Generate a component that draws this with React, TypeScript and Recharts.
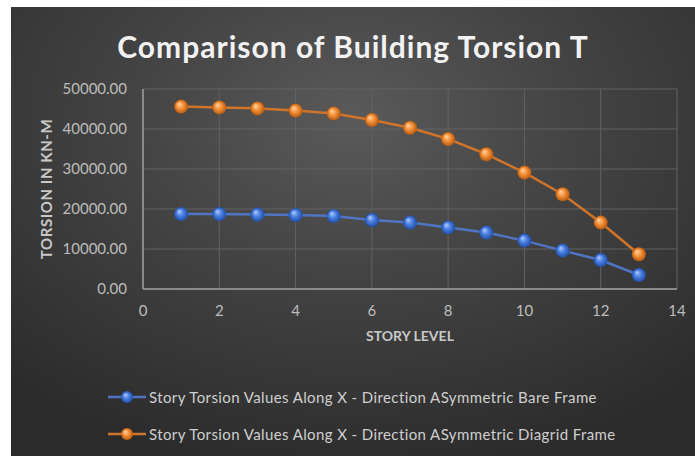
import React from "react";
import {
  LineChart,
  Line,
  XAxis,
  YAxis,
  CartesianGrid,
  Legend,
} from "recharts";

const storyLevels = [1, 2, 3, 4, 5, 6, 7, 8, 9, 10, 11, 12, 13];
const bareFrame = [
  18750, 18750, 18600, 18500, 18250, 17250, 16600, 15400, 14100, 12100, 9600,
  7250, 3500,
];
const diagridFrame = [
  45600, 45400, 45150, 44600, 43900, 42250, 40300, 37500, 33700, 29100, 23700,
  16600, 8700,
];
const xTicks = [0, 2, 4, 6, 8, 10, 12, 14];
const yTicks = [0, 10000, 20000, 30000, 40000, 50000];

const bareName = "Story Torsion Values Along X - Direction ASymmetric Bare Frame";
const diagridName =
  "Story Torsion Values Along X - Direction ASymmetric Diagrid Frame";

const data = storyLevels.map((level, i) => ({
  level,
  bare: bareFrame[i],
  diagrid: diagridFrame[i],
}));

const FONT = "Lato, 'Open Sans', sans-serif";

function makeBall(gradId: string) {
  return (props: any) => {
    const { cx, cy, index } = props;
    if (cx == null || cy == null) return <g key={index} />;
    return (
      <circle
        key={`${gradId}-${index}`}
        cx={cx}
        cy={cy}
        r={7}
        fill={`url(#${gradId})`}
        stroke="none"
      />
    );
  };
}

function LegendRows() {
  const rows = [
    { name: bareName, grad: "ballBlue", line: "#4f74c4" },
    { name: diagridName, grad: "ballOrange", line: "#d0742a" },
  ];
  return (
    <div style={{ height: 100, position: "relative" }}>
      {rows.map((r, i) => (
        <div
          key={r.name}
          style={{
            position: "absolute",
            left: 96,
            top: 39 + i * 37,
            height: 18,
            display: "flex",
            alignItems: "center",
          }}
        >
          <svg width={40} height={18}>
            <defs>
              <radialGradient id={`${r.grad}L`} cx="50%" cy="50%" r="50%" fx="35%" fy="30%">
                {r.grad === "ballBlue" ? (
                  <>
                    <stop offset="0%" stopColor="#b4ccff" />
                    <stop offset="50%" stopColor="#4a7fe0" />
                    <stop offset="100%" stopColor="#1f4fa8" />
                  </>
                ) : (
                  <>
                    <stop offset="0%" stopColor="#ffd6a8" />
                    <stop offset="50%" stopColor="#f5923a" />
                    <stop offset="100%" stopColor="#b85a10" />
                  </>
                )}
              </radialGradient>
            </defs>
            <line x1={1} y1={9} x2={39} y2={9} stroke={r.line} strokeWidth={2.5} />
            <circle cx={20} cy={9} r={6} fill={`url(#${r.grad}L)`} />
          </svg>
          <span
            style={{
              marginLeft: 2,
              fontFamily: FONT,
              fontSize: 15,
              letterSpacing: 0.4,
              color: "#cfcfcf",
              whiteSpace: "nowrap",
            }}
          >
            {r.name}
          </span>
        </div>
      ))}
    </div>
  );
}

export default function App() {
  return (
    <div style={page}>
      <style>{`body{margin:0;background:#fff}`}</style>
      <div style={chartBox}>
        <div style={title}>Comparison of Building Torsion T</div>
        <LineChart
          width={684}
          height={449}
          data={data}
          margin={{ top: 82, right: 18, bottom: 7, left: 0 }}
        >
          <defs>
            <radialGradient id="ballBlue" cx="50%" cy="50%" r="50%" fx="35%" fy="30%">
              <stop offset="0%" stopColor="#b4ccff" />
              <stop offset="50%" stopColor="#4a7fe0" />
              <stop offset="100%" stopColor="#1f4fa8" />
            </radialGradient>
            <radialGradient id="ballOrange" cx="50%" cy="50%" r="50%" fx="35%" fy="30%">
              <stop offset="0%" stopColor="#ffd6a8" />
              <stop offset="50%" stopColor="#f5923a" />
              <stop offset="100%" stopColor="#b85a10" />
            </radialGradient>
          </defs>
          <CartesianGrid stroke="#626262" strokeWidth={1} />
          <XAxis
            dataKey="level"
            type="number"
            domain={[0, 14]}
            ticks={xTicks}
            height={60}
            tickSize={0}
            tickMargin={16}
            axisLine={{ stroke: "#8a8a8a", strokeWidth: 2 }}
            tick={{ fill: "#bdbdbd", fontSize: 15, fontFamily: FONT }}
            label={{
              value: "STORY LEVEL",
              position: "insideBottom",
              offset: 8,
              fill: "#c8c8c8",
              fontSize: 14,
              fontWeight: 700,
              fontFamily: FONT,
            }}
          />
          <YAxis
            type="number"
            domain={[0, 50000]}
            ticks={yTicks}
            width={132}
            tickSize={0}
            tickMargin={16}
            axisLine={{ stroke: "#8a8a8a", strokeWidth: 2 }}
            tickFormatter={(v: number) => v.toFixed(2)}
            tick={{ fill: "#bdbdbd", fontSize: 15, fontFamily: FONT }}
            label={{
              value: "TORSION IN KN-M",
              angle: -90,
              position: "insideLeft",
              offset: 36,
              fill: "#c8c8c8",
              fontSize: 15,
              fontWeight: 700,
              fontFamily: FONT,
              style: { textAnchor: "middle", letterSpacing: 0.6 },
            }}
          />
          <Legend verticalAlign="bottom" align="left" content={() => <LegendRows />} />
          <Line
            name={bareName}
            dataKey="bare"
            stroke="#4f74c4"
            strokeWidth={2.5}
            dot={makeBall("ballBlue")}
            activeDot={false}
            isAnimationActive={false}
          />
          <Line
            name={diagridName}
            dataKey="diagrid"
            stroke="#d0742a"
            strokeWidth={2.5}
            dot={makeBall("ballOrange")}
            activeDot={false}
            isAnimationActive={false}
          />
        </LineChart>
      </div>
    </div>
  );
}

const page: React.CSSProperties = {
  width: 695,
  height: 456,
  position: "relative",
  background: "#fff",
};

const chartBox: React.CSSProperties = {
  position: "absolute",
  left: 11,
  top: 7,
  width: 684,
  height: 449,
  background:
    "radial-gradient(ellipse 75% 80% at 50% 25%, #5a5a5a 0%, #454545 40%, #2b2b2b 100%)",
  overflow: "hidden",
};

const title: React.CSSProperties = {
  position: "absolute",
  left: 0,
  right: 0,
  top: 21,
  textAlign: "center",
  fontFamily: FONT,
  fontSize: 30,
  letterSpacing: 1,
  fontWeight: 700,
  color: "#f2f2f2",
  zIndex: 1,
};
